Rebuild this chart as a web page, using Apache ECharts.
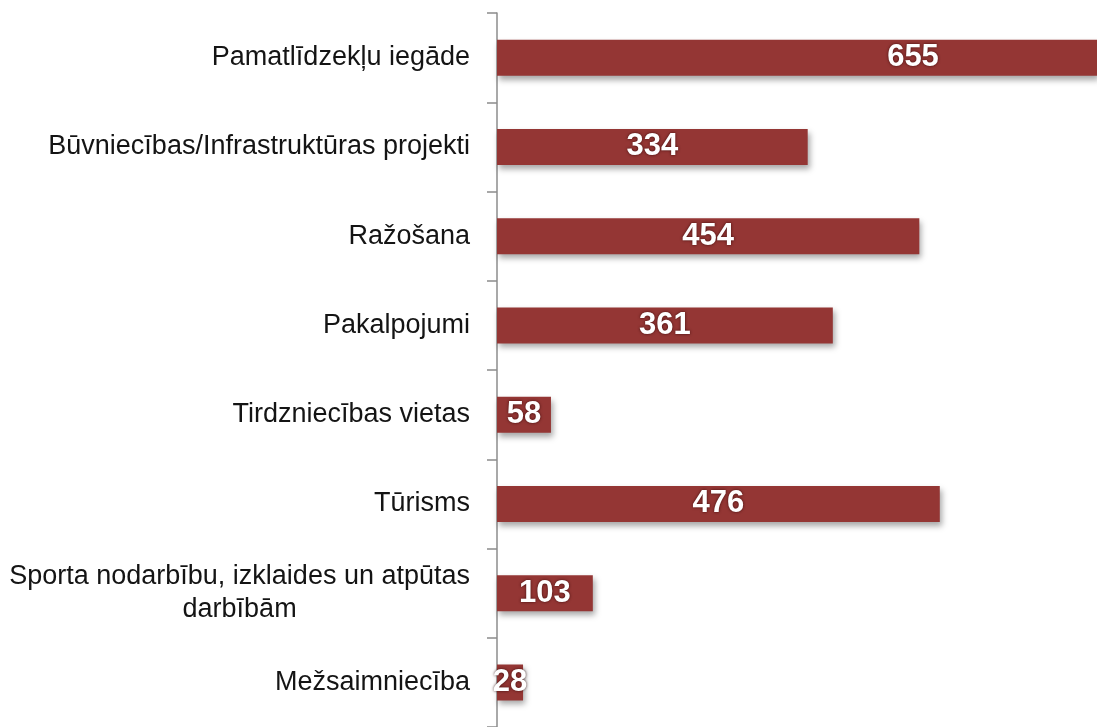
<!DOCTYPE html>
<html>
<head>
<meta charset="utf-8">
<script src="https://cdn.jsdelivr.net/npm/echarts@6/dist/echarts.min.js"></script>
<style>
  html, body { margin: 0; padding: 0; background: #fff; }
  #main { width: 1097px; height: 727px; }
</style>
</head>
<body>
<div id="main"></div>
<script>
var categories = [
  'Pamatlīdzekļu iegāde',
  'Būvniecības/Infrastruktūras projekti',
  'Ražošana',
  'Pakalpojumi',
  'Tirdzniecības vietas',
  'Tūrisms',
  'Sporta nodarbību, izklaides un atpūtas\ndarbībām',
  'Mežsaimniecība'
];
var values = [655, 334, 454, 361, 58, 476, 103, 28];

var chart = echarts.init(document.getElementById('main'));

var data = values.map(function (v, i) {
  var item = { value: v };
  // the longest bar runs past the picture edge, its label sits further right
  if (i === 0) item.label = { offset: [116, 0] };
  return item;
});

var option = {
  animation: false,
  grid: { left: 497, right: 0, top: 13, bottom: -2 },
  xAxis: {
    type: 'value',
    min: 0,
    max: 645,
    show: false
  },
  yAxis: {
    type: 'category',
    data: categories,
    inverse: true,
    axisLine: { show: true, lineStyle: { color: '#8c8c8c', width: 1.5 } },
    axisTick: { show: true, length: 10, lineStyle: { color: '#8c8c8c', width: 1.5 } },
    axisLabel: {
      margin: 27,
      fontFamily: '"Liberation Sans", Arial, sans-serif',
      fontSize: 27,
      color: '#141414',
      lineHeight: 33,
      formatter: function (val) {
        return val.split('\n').map(function (s) { return '{c|' + s + '}'; }).join('\n');
      },
      rich: { c: { align: 'center', fontSize: 27, lineHeight: 33, color: '#141414' } }
    }
  },
  series: [{
    type: 'bar',
    data: data,
    barWidth: 36,
    clip: true,
    itemStyle: {
      color: '#943634',
      shadowColor: 'rgba(0,0,0,0.35)',
      shadowBlur: 6,
      shadowOffsetX: 2,
      shadowOffsetY: 4
    },
    label: {
      show: true,
      position: 'inside',
      color: '#fff',
      fontFamily: '"Liberation Sans Narrow", "Arial Narrow", "Liberation Sans", sans-serif',
      fontWeight: 'bold',
      fontSize: 31,
      textShadowColor: 'rgba(40,0,0,0.8)',
      textShadowBlur: 3
    }
  }]
};

chart.setOption(option);
</script>
</body>
</html>
